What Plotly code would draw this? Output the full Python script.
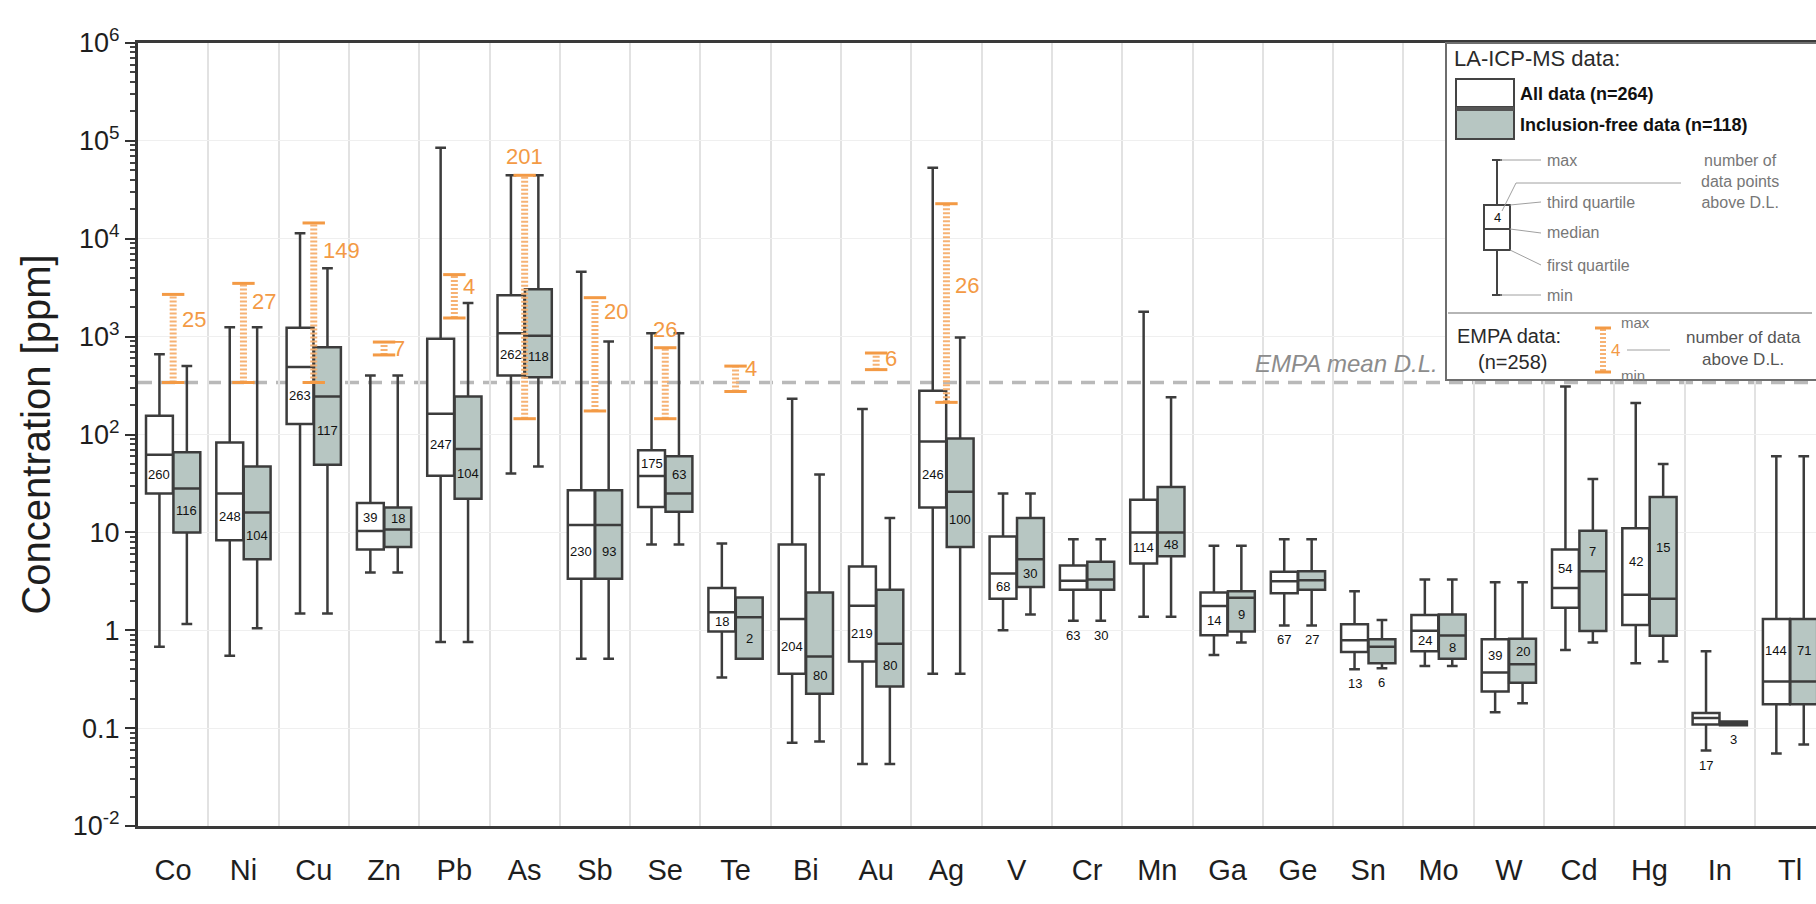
import math
import plotly.graph_objects as go

# ---------------------------------------------------------------- data
elements = ['Co', 'Ni', 'Cu', 'Zn', 'Pb', 'As', 'Sb', 'Se', 'Te', 'Bi', 'Au', 'Ag',
            'V', 'Cr', 'Mn', 'Ga', 'Ge', 'Sn', 'Mo', 'W', 'Cd', 'Hg', 'In', 'Tl']

# LA-ICP-MS, all data (n=264): min, Q1, median, Q3, max [ppm] and count above D.L.
all_min = [0.68, 0.55, 1.48, 3.9, 0.76, 40, 0.51, 7.5, 0.33, 0.071, 0.043, 0.36,
           1.0, 1.25, 1.37, 0.56, 1.12, 0.40, 0.43, 0.145, 0.63, 0.46, 0.059, 0.055]
all_q1 = [25, 8.3, 128, 6.7, 38, 400, 3.35, 18.2, 0.97, 0.36, 0.48, 18,
          2.1, 2.6, 4.8, 0.89, 2.39, 0.60, 0.61, 0.237, 1.7, 1.13, 0.109, 0.175]
all_med = [62, 25, 490, 10.3, 163, 1080, 11.9, 37.6, 1.53, 1.3, 1.78, 85,
           3.8, 3.2, 10, 1.77, 3.16, 0.79, 0.99, 0.37, 2.7, 2.3, 0.127, 0.30]
all_q3 = [155, 83, 1230, 20, 950, 2650, 27, 69, 2.7, 7.5, 4.47, 280,
          9.1, 4.6, 21.5, 2.43, 3.95, 1.15, 1.43, 0.81, 6.7, 11, 0.143, 1.3]
all_max = [660, 1250, 11400, 400, 85000, 44500, 4600, 1080, 7.7, 232, 182, 53000,
           25, 8.5, 1800, 7.3, 8.5, 2.5, 3.3, 3.1, 310, 210, 0.61, 60]
all_n = [260, 248, 263, 39, 247, 262, 230, 175, 18, 204, 219, 246,
         68, 63, 114, 14, 67, 13, 24, 39, 54, 42, 17, 144]

# LA-ICP-MS, inclusion-free data (n=118)
inc_min = [1.16, 1.05, 1.48, 3.9, 0.76, 47, 0.51, 7.5, 0.51, 0.073, 0.043, 0.36,
           1.45, 1.25, 1.37, 0.75, 1.12, 0.41, 0.43, 0.18, 0.75, 0.48, 0.107, 0.068]
inc_q1 = [10, 5.3, 49, 7.1, 22, 385, 3.35, 16.2, 0.51, 0.224, 0.266, 7.1,
          2.76, 2.6, 5.7, 0.97, 2.6, 0.46, 0.51, 0.29, 0.98, 0.88, 0.107, 0.175]
inc_med = [28, 16, 245, 10.7, 71, 1020, 11.9, 25, 1.36, 0.54, 0.73, 26,
           5.3, 3.3, 10, 2.15, 3.25, 0.68, 0.885, 0.45, 4.0, 2.1, 0.112, 0.30]
inc_q3 = [66, 47, 780, 18, 245, 3050, 27, 60, 2.16, 2.43, 2.6, 91,
          14, 5.0, 29, 2.5, 4.0, 0.81, 1.45, 0.82, 10.4, 23, 0.117, 1.3]
inc_max = [500, 1250, 5000, 400, 2200, 44500, 890, 1080, 2.16, 39, 14, 980,
           25, 8.5, 240, 7.3, 8.5, 1.27, 3.3, 3.1, 35, 50, 0.117, 60]
inc_n = [116, 104, 117, 18, 104, 118, 93, 63, 2, 80, 80, 100,
         30, 30, 48, 9, 27, 6, 8, 20, 7, 15, 3, 71]

# EMPA (n=258): min / max of values above D.L. and their count
empa_elements = ['Co', 'Ni', 'Cu', 'Zn', 'Pb', 'As', 'Sb', 'Se', 'Te', 'Au', 'Ag']
empa_min = [340, 340, 340, 650, 1550, 145, 174, 145, 275, 460, 213]
empa_max = [2700, 3500, 14500, 880, 4300, 44500, 2500, 770, 500, 680, 22800]
empa_n = [25, 27, 149, 7, 4, 201, 20, 26, 4, 6, 26]

empa_mean_dl = 340  # ppm

# ---------------------------------------------------------------- styling
WHITE_FILL = '#ffffff'
GRAY_FILL = '#b7c6c2'
BOX_LINE = '#3c3c3c'
ORANGE = '#f39a45'
ORANGE_LIGHT = '#f6b274'
FONT = 'Liberation Sans, Arial, sans-serif'
NARROW = 'Liberation Sans Narrow, Arial Narrow, Liberation Sans, sans-serif'

W, H = 1816, 904
PLOT_L, PLOT_R, PLOT_T, PLOT_B = 138, 1816, 43, 826
CAT_PX = 70.3                      # width of one element band in pixels
BOXGAP, BOXGROUPGAP = 0.22, 0.02
BOX_OFFSET = (1 - BOXGAP) * CAT_PX / 4   # pixel offset of each box from band centre

# label side inside the box (lower half unless listed here)
upper_half_labels = {'Zn', 'Se', 'W', 'Cd', 'Hg', 'Tl'}
# counts written underneath the lower whisker
below_whisker_labels = {'Cr', 'Ge', 'Sn', 'In'}
# EMPA count label: relative height along the bar (log scale); None = above the bar
empa_label_pos = [0.72, 0.82, 0.83, 0.5, 0.73, None, 0.88, None, 0.9, 0.65, 0.59]


def px(x):
    return (x - PLOT_L) / (PLOT_R - PLOT_L)


def py(y):
    return (PLOT_B - y) / (PLOT_B - PLOT_T)


fig = go.Figure()

for name, fill, q1, med, q3, lo, hi in [
        ('All data (n=264)', WHITE_FILL, all_q1, all_med, all_q3, all_min, all_max),
        ('Inclusion-free data (n=118)', GRAY_FILL, inc_q1, inc_med, inc_q3, inc_min, inc_max)]:
    fig.add_trace(go.Box(
        name=name, x=elements, q1=q1, median=med, q3=q3,
        lowerfence=lo, upperfence=hi,
        fillcolor=fill, line=dict(color=BOX_LINE, width=2.5),
        whiskerwidth=0.4, boxpoints=False, hoverinfo='skip',
    ))

# EMPA ranges: dotted orange ladder with caps
bx, by, cx, cy = [], [], [], []
for el, lo, hi in zip(empa_elements, empa_min, empa_max):
    bx += [el, el, None]
    by += [lo, hi, None]
    cx += [el, el]
    cy += [lo, hi]
fig.add_trace(go.Scatter(x=bx, y=by, mode='lines', hoverinfo='skip',
                         line=dict(color=ORANGE_LIGHT, width=7, dash='2px,2px')))
fig.add_trace(go.Scatter(x=cx, y=cy, mode='markers', hoverinfo='skip',
                         marker=dict(symbol='line-ew', size=16,
                                     line=dict(color=ORANGE, width=3))))

annotations = []
shapes = []

# count labels for the boxes
for side, q1s, meds, q3s, los, ns in [(-1, all_q1, all_med, all_q3, all_min, all_n),
                                      (1, inc_q1, inc_med, inc_q3, inc_min, inc_n)]:
    for el, q1, med, q3, lo, n in zip(elements, q1s, meds, q3s, los, ns):
        if el in below_whisker_labels:
            y, anchor, shift = math.log10(lo), 'top', -5
        elif el in upper_half_labels:
            y, anchor, shift = (math.log10(med) + math.log10(q3)) / 2, 'middle', 0
        else:
            y, anchor, shift = (math.log10(med) + math.log10(q1)) / 2, 'middle', 0
        annotations.append(dict(x=el, y=y, xref='x', yref='y', text=str(n),
                                showarrow=False, xshift=side * BOX_OFFSET,
                                yanchor=anchor, yshift=shift,
                                font=dict(family=NARROW, size=13, color='#111')))

# EMPA count labels
for el, lo, hi, n, pos in zip(empa_elements, empa_min, empa_max, empa_n, empa_label_pos):
    if pos is None:
        annotations.append(dict(x=el, y=math.log10(hi), xref='x', yref='y', text=str(n),
                                showarrow=False, yanchor='bottom', yshift=4,
                                font=dict(family=FONT, size=22, color=ORANGE)))
    else:
        y = math.log10(lo) + pos * (math.log10(hi) - math.log10(lo))
        annotations.append(dict(x=el, y=y, xref='x', yref='y', text=str(n),
                                showarrow=False, xanchor='left', xshift=7,
                                font=dict(family=FONT, size=22, color=ORANGE)))

# EMPA mean detection limit (shape coordinates on a log axis are data values)
shapes.append(dict(type='line', xref='paper', yref='y', x0=0, x1=1,
                   y0=empa_mean_dl, y1=empa_mean_dl,
                   line=dict(color='#b9b9b9', width=3.5, dash='14px,9px'), layer='below'))

# ---------------------------------------------------------------- legend panel
LEG_L, LEG_T, LEG_B = 1446, 43, 380
shapes.append(dict(type='rect', xref='paper', yref='paper', x0=px(LEG_L), x1=px(1830),
                   y0=py(LEG_B), y1=py(LEG_T), fillcolor='white',
                   line=dict(color='#6e6e6e', width=2), layer='above'))
shapes.append(dict(type='line', xref='paper', yref='paper', x0=px(LEG_L + 2), x1=px(1812),
                   y0=py(313), y1=py(313), line=dict(color='#b5b5b5', width=2), layer='above'))


def leg_rect(x0, y0, x1, y1, fill, lw=2, color='#444'):
    shapes.append(dict(type='rect', xref='paper', yref='paper', x0=px(x0), x1=px(x1),
                       y0=py(y1), y1=py(y0), fillcolor=fill,
                       line=dict(color=color, width=lw), layer='above'))


def leg_line(x0, y0, x1, y1, color='#444', width=2, dash=None):
    ln = dict(color=color, width=width)
    if dash:
        ln['dash'] = dash
    shapes.append(dict(type='line', xref='paper', yref='paper', x0=px(x0), x1=px(x1),
                       y0=py(y0), y1=py(y1), line=ln, layer='above'))


def leg_text(x, y, text, size=16, color='#777', xanchor='left', family=FONT):
    annotations.append(dict(x=px(x), y=py(y), xref='paper', yref='paper', text=text,
                            showarrow=False, xanchor=xanchor, yanchor='middle',
                            font=dict(family=family, size=size, color=color)))


leg_text(1452, 58, 'LA-ICP-MS data:', size=22, color='#2a2a2a')
leg_rect(1456, 79, 1514, 107, WHITE_FILL)
leg_rect(1456, 107, 1514, 139, GRAY_FILL)
leg_line(1456, 109, 1514, 109, color='#555', width=4)
leg_text(1518, 94, '<b>All data (n=264)</b>', size=18, color='#111')
leg_text(1518, 125, '<b>Inclusion-free data (n=118)</b>', size=18, color='#111')

# explanatory box glyph
leg_line(1497, 160, 1497, 205)
leg_line(1497, 250, 1497, 295)
leg_line(1492, 160, 1502, 160)
leg_line(1492, 295, 1502, 295)
leg_rect(1484, 205, 1510, 250, 'white')
leg_line(1484, 229, 1510, 229)
leg_text(1497, 217, '4', size=13, color='#111', xanchor='center', family=NARROW)
for y0, y1, label in [(160, 160, 'max'), (205, 202, 'third quartile'),
                      (229, 233, 'median'), (250, 265, 'first quartile'), (295, 295, 'min')]:
    x0 = 1500 if label in ('max', 'min') else 1510
    leg_line(x0, y0, 1541, y1, color='#a0a0a0', width=1)
    leg_text(1545, y1, label, size=16)
leg_line(1502, 211, 1516, 183, color='#a0a0a0', width=1)
leg_line(1516, 183, 1681, 183, color='#a0a0a0', width=1)
leg_text(1740, 182, 'number of<br>data points<br>above D.L.', size=16, xanchor='center')

# EMPA glyph
leg_text(1455, 336, 'EMPA data:', size=20, color='#2a2a2a')
leg_text(1513, 362, '(n=258)', size=20, color='#2a2a2a', xanchor='center')
leg_line(1603, 329, 1603, 371, color=ORANGE_LIGHT, width=6, dash='2px,2px')
leg_line(1595, 328, 1611, 328, color=ORANGE, width=3)
leg_line(1595, 372, 1611, 372, color=ORANGE, width=3)
leg_text(1609, 350, '4', size=17, color=ORANGE)
leg_text(1619, 323, 'max', size=15)
leg_text(1619, 375, 'min', size=15)
leg_line(1627, 350, 1670, 350, color='#a0a0a0', width=1)
leg_text(1743, 348, 'number of data<br>above D.L.', size=17, color='#555', xanchor='center')

annotations.append(dict(x=px(LEG_L - 6), y=math.log10(empa_mean_dl), xref='paper', yref='y',
                        text='<i>EMPA mean D.L.</i>', showarrow=False, xanchor='right',
                        yanchor='bottom', yshift=3,
                        font=dict(family=FONT, size=24, color='#8c8c8c')))

# ---------------------------------------------------------------- axes
major = [10.0 ** k for k in range(-2, 7)]
major_text = ['10<sup>-2</sup>', '0.1', '1', '10', '10<sup>2</sup>', '10<sup>3</sup>',
              '10<sup>4</sup>', '10<sup>5</sup>', '10<sup>6</sup>']
minor = [m * 10.0 ** k for k in range(-2, 6) for m in range(2, 10)]

fig.update_layout(
    width=W, height=H,
    margin=dict(l=PLOT_L, r=W - PLOT_R, t=PLOT_T, b=H - PLOT_B),
    paper_bgcolor='white', plot_bgcolor='white',
    showlegend=False,
    boxmode='group', boxgap=BOXGAP, boxgroupgap=BOXGROUPGAP,
    font=dict(family=FONT, color='#222'),
    shapes=shapes, annotations=annotations,
    xaxis=dict(type='category', categoryorder='array', categoryarray=elements,
               range=[-0.5, -0.5 + (PLOT_R - PLOT_L) / CAT_PX],
               tickson='boundaries', ticks='', showgrid=True,
               gridcolor='#e2e2e2', gridwidth=1.5,
               showline=True, linecolor='#3a3a3a', linewidth=3, mirror=True,
               tickfont=dict(size=29, color='#1e1e1e'), ticklabelstandoff=16),
    yaxis=dict(type='log', range=[-2, 6],
               tickmode='array', tickvals=major, ticktext=major_text,
               ticks='outside', ticklen=10, tickwidth=2, tickcolor='#333',
               minor=dict(tickmode='array', tickvals=minor, ticks='outside',
                          ticklen=5, tickwidth=1.5, tickcolor='#444', showgrid=False),
               showgrid=True, gridcolor='#efefef', gridwidth=1,
               showline=True, linecolor='#333', linewidth=3,
               tickfont=dict(size=27, color='#1e1e1e'),
               title=dict(text='Concentration [ppm]', font=dict(size=40, color='#1e1e1e'),
                          standoff=10)),
)

fig.write_html('out.html')
